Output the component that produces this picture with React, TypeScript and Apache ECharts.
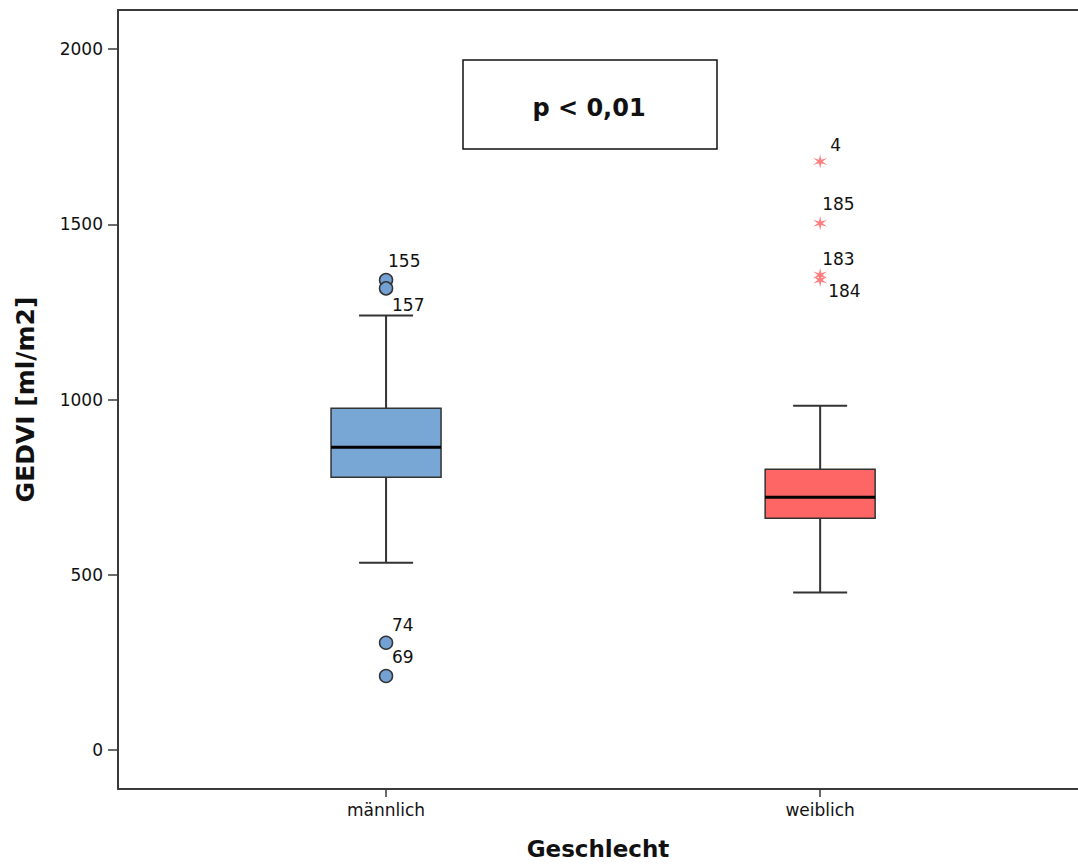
import React, { useEffect, useRef } from 'react';
import * as echarts from 'echarts';

// Groups on the x axis and their box statistics (GEDVI, ml/m2)
const categories = ['männlich', 'weiblich'];
const whiskerLow = [534, 449];
const quartile1 = [778, 661];
const medians = [864, 721];
const quartile3 = [975, 801];
const whiskerHigh = [1240, 982];

// Outliers (case numbers and values)
const maleOutlierIds = ['155', '157', '74', '69'];
const maleOutlierValues = [1341, 1317, 306, 211];
const femaleOutlierIds = ['4', '185', '183', '184'];
const femaleOutlierValues = [1679, 1503, 1355, 1341];

const yTicks = [0, 500, 1000, 1500, 2000];
const pLabel = 'p < 0,01';

const FONT = '"DejaVu Sans", Verdana, sans-serif';
const AXIS_COLOR = '#3a3a3a';
const boxColors = ['#78a7d6', '#fe6565'];

// Where each case label sits relative to its marker
const labelOffsets: Record<string, [number, number]> = {
  '155': [2, -19],
  '157': [6, 17],
  '74': [6, -18],
  '69': [6, -19],
  '4': [10, -17],
  '185': [2, -19],
  '183': [2, -16],
  '184': [8, 11],
};

// six-spoke asterisk marker
const starPath = (() => {
  const outer = 10;
  const inner = 3;
  const pts: string[] = [];
  for (let k = 0; k < 12; k++) {
    const r = k % 2 === 0 ? outer : inner;
    const a = (Math.PI / 6) * k - Math.PI / 2;
    pts.push(`${(r * Math.cos(a)).toFixed(3)} ${(r * Math.sin(a)).toFixed(3)}`);
  }
  return 'path://M' + pts.join(' L') + ' Z';
})();

function outlierData(ids: string[], values: number[], x: number) {
  return ids.map((id, i) => ({
    name: id,
    value: [x, values[i]],
    label: { offset: labelOffsets[id] },
  }));
}

export default function App() {
  const ref = useRef<HTMLDivElement>(null);

  useEffect(() => {
    if (!ref.current) return;
    const chart = echarts.init(ref.current, undefined, { renderer: 'svg' });

    const boxData = categories.map((_, i) => [
      i + 1,
      whiskerLow[i],
      quartile1[i],
      medians[i],
      quartile3[i],
      whiskerHigh[i],
    ]);

    const labelStyle = {
      show: true,
      formatter: '{b}',
      position: 'inside',
      align: 'left',
      verticalAlign: 'middle',
      color: '#111',
      fontSize: 17,
      fontFamily: FONT,
    };

    const axisLine = { show: true, onZero: false, lineStyle: { color: AXIS_COLOR, width: 2 } };

    const option: any = {
      animation: false,
      backgroundColor: '#fff',
      grid: { left: 118, top: 10, right: 0, bottom: 77 },
      xAxis: [
        {
          type: 'value',
          min: 0.3825,
          max: 2.594,
          axisLine,
          axisTick: {
            show: true,
            customValues: [1, 2],
            length: 8,
            lineStyle: { color: AXIS_COLOR, width: 1.5 },
          },
          axisLabel: {
            customValues: [1, 2],
            formatter: (v: number) => categories[Math.round(v) - 1] ?? '',
            color: '#111',
            fontSize: 17,
            fontFamily: FONT,
            margin: 12,
          },
          splitLine: { show: false },
          name: 'Geschlecht',
          nameLocation: 'middle',
          nameGap: 48,
          nameTextStyle: { color: '#111', fontSize: 23, fontWeight: 'bold', fontFamily: FONT },
        },
        {
          // top frame line
          type: 'value',
          position: 'top',
          min: 0.3825,
          max: 2.594,
          axisLine,
          axisTick: { show: false },
          axisLabel: { show: false },
          splitLine: { show: false },
        },
      ],
      yAxis: {
        type: 'value',
        min: -111.3,
        max: 2111.3,
        axisLine,
        axisTick: {
          show: true,
          customValues: yTicks,
          length: 10,
          lineStyle: { color: AXIS_COLOR, width: 1.5 },
        },
        axisLabel: {
          customValues: yTicks,
          formatter: (v: number) => String(v),
          color: '#111',
          fontSize: 17,
          fontFamily: FONT,
          margin: 15,
        },
        splitLine: { show: false },
        name: 'GEDVI [ml/m2]',
        nameLocation: 'middle',
        nameGap: 80,
        nameRotate: 90,
        nameTextStyle: { color: '#111', fontSize: 25, fontWeight: 'bold', fontFamily: FONT },
      },
      series: [
        {
          type: 'custom',
          data: boxData,
          encode: { x: 0, y: [1, 2, 3, 4, 5] },
          renderItem: (params: any, api: any) => {
            const x = api.value(0);
            const low = api.coord([x, api.value(1)]);
            const q1 = api.coord([x, api.value(2)]);
            const med = api.coord([x, api.value(3)]);
            const q3 = api.coord([x, api.value(4)]);
            const high = api.coord([x, api.value(5)]);
            const cx = low[0];
            const boxW = 110;
            const capW = 54;
            const stroke = { stroke: '#333', lineWidth: 2 };
            return {
              type: 'group',
              children: [
                { type: 'line', shape: { x1: cx, y1: low[1], x2: cx, y2: q1[1] }, style: stroke },
                { type: 'line', shape: { x1: cx, y1: q3[1], x2: cx, y2: high[1] }, style: stroke },
                { type: 'line', shape: { x1: cx - capW / 2, y1: low[1], x2: cx + capW / 2, y2: low[1] }, style: stroke },
                { type: 'line', shape: { x1: cx - capW / 2, y1: high[1], x2: cx + capW / 2, y2: high[1] }, style: stroke },
                {
                  type: 'rect',
                  shape: { x: cx - boxW / 2, y: q3[1], width: boxW, height: q1[1] - q3[1] },
                  style: { fill: boxColors[params.dataIndex], stroke: '#333', lineWidth: 1.5 },
                },
                {
                  type: 'line',
                  shape: { x1: cx - boxW / 2, y1: med[1], x2: cx + boxW / 2, y2: med[1] },
                  style: { stroke: '#000', lineWidth: 3 },
                },
              ],
            };
          },
          z: 2,
        },
        {
          type: 'scatter',
          data: outlierData(maleOutlierIds, maleOutlierValues, 1),
          symbol: 'circle',
          symbolSize: 13,
          itemStyle: { color: '#73a1d3', borderColor: '#333', borderWidth: 1.5, opacity: 1 },
          label: labelStyle,
          z: 3,
        },
        {
          type: 'scatter',
          data: outlierData(femaleOutlierIds, femaleOutlierValues, 2),
          symbol: starPath,
          symbolSize: 14,
          itemStyle: { color: '#ff7d7d', opacity: 1 },
          label: labelStyle,
          z: 3,
        },
      ],
      graphic: [
        {
          type: 'rect',
          shape: { x: 463, y: 60, width: 254, height: 89 },
          style: { fill: '#fff', stroke: '#111', lineWidth: 1.5 },
          z: 10,
        },
        {
          type: 'text',
          x: 589,
          y: 108,
          style: {
            text: pLabel,
            fontSize: 24,
            fontWeight: 'bold',
            fontFamily: FONT,
            fill: '#111',
            align: 'center',
            verticalAlign: 'middle',
          },
          z: 11,
        },
      ],
    };

    chart.setOption(option);
    return () => chart.dispose();
  }, []);

  return (
    <div
      ref={ref}
      style={{ position: 'absolute', left: 0, top: 0, width: 1078, height: 866 }}
    />
  );
}
